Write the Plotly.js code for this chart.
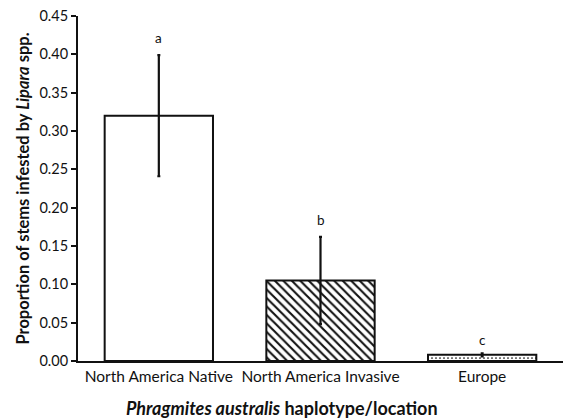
<!DOCTYPE html>
<html><head><meta charset="utf-8">
<script src="https://cdn.plot.ly/plotly-3.0.1.min.js"></script>
<style>body{margin:0;background:#fff}#c{width:563px;height:420px}</style>
</head><body><div id="c"></div>
<script>
var categories = ["North America Native", "North America Invasive", "Europe"];
var proportions = [0.320, 0.105, 0.008];
var errors = [0.079, 0.057, 0.002];
var letters = ["a", "b", "c"];
var letterY = [0.421, 0.184, 0.027];
var yTicks = [0, 0.05, 0.10, 0.15, 0.20, 0.25, 0.30, 0.35, 0.40, 0.45];

var F = "Lato, Open Sans, sans-serif";
var trace = {
  type: "bar",
  x: categories,
  y: proportions,
  width: 0.67,
  marker: {
    color: "#ffffff",
    line: {color: "#111", width: 2},
    pattern: {shape: ["", "\\", "."], fgcolor: "#111", bgcolor: "#fff", size: [6, 6, 4], solidity: [0.3, 0.35, 0.15]}
  },
  error_y: {type: "data", array: errors, visible: true, color: "#111", thickness: 2.2, width: 1.5}
};
var annotations = categories.map(function(c, i){
  return {x: c, y: letterY[i], text: letters[i], showarrow: false, xref: "x", yref: "y",
    font: {family: F, size: 13.5, color: "#111"}};
});
annotations.push({xref: "paper", yref: "paper", x: (281.5 - 78) / 485, y: -0.137, xanchor: "center", yanchor: "middle",
  showarrow: false, text: "<b><i>Phragmites australis</i> haplotype/location</b>",
  font: {family: F, size: 18, color: "#111"}});
var layout = {
  width: 563, height: 420,
  margin: {l: 78, r: 0, t: 16, b: 59},
  paper_bgcolor: "#fff", plot_bgcolor: "#fff",
  showlegend: false,
  xaxis: {
    range: [-0.5, 2.5], showgrid: false, zeroline: false, showline: true, linecolor: "#111", linewidth: 2,
    ticks: "", tickfont: {family: F, size: 15.5, color: "#111"}
  },
  yaxis: {
    range: [0, 0.45], tickvals: yTicks, tickformat: ".2f", showgrid: false, zeroline: false,
    showline: true, linecolor: "#111", linewidth: 2, ticks: "outside", ticklen: 5, tickwidth: 2, tickcolor: "#111",
    tickfont: {family: F, size: 14.5, color: "#111"},
    title: {text: "<b>Proportion of stems infested by <i>Lipara</i> spp.</b>", font: {family: F, size: 16.5, color: "#111"}, standoff: 6}
  },
  annotations: annotations
};
Plotly.newPlot("c", [trace], layout, {displayModeBar: false, staticPlot: true});
</script></body></html>
